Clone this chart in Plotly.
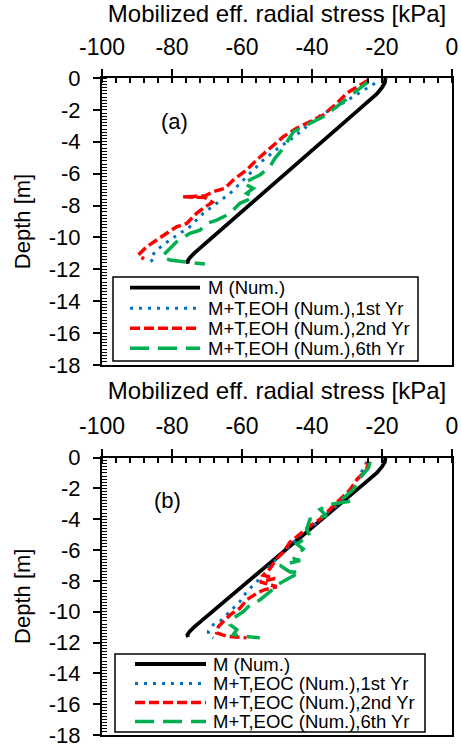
import plotly.graph_objects as go

W, H = 461, 747

# ---------------- data ----------------
x_title = "Mobilized eff. radial stress [kPa]"
y_title = "Depth [m]"
panel_labels = ["(a)", "(b)"]
names_a = ["M (Num.)", "M+T,EOH (Num.),1st Yr", "M+T,EOH (Num.),2nd Yr", "M+T,EOH (Num.),6th Yr"]
names_b = ["M (Num.)", "M+T,EOC (Num.),1st Yr", "M+T,EOC (Num.),2nd Yr", "M+T,EOC (Num.),6th Yr"]

x_tickvals = [-100, -80, -60, -40, -20, 0]
x_ticktext = ["-100", "-80", "-60", "-40", "-20", "0"]
y_tickvals = [0, -2, -4, -6, -8, -10, -12, -14, -16, -18]
y_ticktext = ["0", "-2", "-4", "-6", "-8", "-10", "-12", "-14", "-16", "-18"]

m_depth = [0.0, -0.3, -0.6, -1.0, -2.0, -4.0, -6.0, -8.0, -10.0, -11.0, -11.3, -11.5, -11.65]
m_stress = [-19.0, -19.2, -20.0, -21.5, -26.7, -37.2, -47.6, -58.1, -68.5, -73.7, -75.0, -75.6, -75.4]

# panel (a) EOH
a1_depth = [-0.33, -0.65, -1.8, -2.22, -3.05, -3.89, -4.31, -5.14, -5.98, -6.6, -7.23, -7.86, -8.49,
            -9.33, -9.74, -10.16, -10.79, -11.31, -11.59]
a1_stress = [-22.0, -24.4, -32.9, -36.8, -41.5, -46.3, -49.1, -53.9, -57.7, -60.6, -63.4, -67.2, -71.1,
             -74.9, -77.7, -80.6, -84.4, -86.3, -85.3]
a2_depth = [-0.13, -0.54, -0.96, -1.59, -2.32, -2.74, -3.16, -3.68, -4.41, -5.14, -5.77, -6.4, -6.92,
            -7.13, -7.4, -7.45, -7.5, -7.8, -8.1, -8.49, -9.12, -9.33, -9.74, -10.16, -10.58, -11.1, -11.35]
a2_stress = [-23.9, -27.2, -30.1, -32.9, -36.8, -40.6, -44.4, -48.2, -52.0, -55.8, -58.7, -62.5, -64.9,
             -68.2, -70.6, -76.8, -70.6, -68.5, -70.6, -73.0, -75.8, -78.7, -81.5, -84.4, -87.2, -89.6, -88.0]
a3_depth = [-0.23, -0.65, -1.17, -1.8, -2.43, -3.05, -3.37, -3.89, -4.41, -5.04, -5.56, -6.08, -6.6,
            -6.92, -7.23, -7.49, -7.86, -8.49, -8.91, -9.12, -9.54, -9.74, -10.27, -10.79, -11.21, -11.42, -11.67]
a3_stress = [-23.9, -26.3, -29.1, -32.9, -36.8, -42.5, -45.3, -46.8, -48.2, -50.6, -52.0, -54.9, -59.6,
             -56.8, -58.7, -56.8, -60.6, -63.4, -67.2, -70.1, -72.0, -74.9, -78.7, -81.0, -82.9, -80.6, -70.6]

# panel (b) EOC
b1_depth = [-0.27, -0.59, -1.44, -2.51, -3.15, -3.79, -4.44, -4.86, -5.5, -5.93, -6.57, -7.0, -7.64,
            -8.28, -8.71, -9.35, -9.78, -10.21, -10.63, -10.85, -11.27, -11.49, -11.7]
b1_stress = [-24.4, -24.9, -27.2, -30.1, -32.9, -36.8, -39.6, -42.5, -45.3, -47.2, -50.1, -52.0, -53.9,
             -56.8, -58.7, -60.6, -62.5, -64.4, -66.3, -68.2, -69.6, -69.6, -68.2]
b2_depth = [-0.27, -0.8, -1.44, -2.08, -2.72, -3.37, -4.0, -4.44, -4.97, -5.5, -6.14, -6.57, -7.21,
            -7.64, -7.85, -8.06, -8.38, -8.6, -8.81, -9.24, -9.78, -10.21, -10.63, -10.95, -11.38, -11.59, -11.7]
b2_stress = [-23.9, -24.4, -27.2, -29.1, -32.0, -34.9, -37.7, -40.6, -43.4, -46.3, -48.2, -50.1, -52.0,
             -53.9, -50.6, -54.9, -50.1, -53.9, -55.8, -58.7, -60.6, -63.4, -65.3, -66.7, -67.2, -64.4, -58.7]
b3_depth = [-0.27, -0.69, -1.33, -2.08, -2.62, -2.83, -3.04, -3.37, -3.79, -4.0, -4.65, -5.08, -5.61,
            -5.93, -6.57, -6.68, -7.0, -7.42, -7.42, -8.06, -8.28, -8.71, -9.24, -9.56, -9.99, -10.42,
            -10.85, -11.17, -11.49, -11.59, -11.7]
b3_stress = [-23.4, -23.9, -26.3, -28.2, -31.0, -28.7, -34.9, -37.7, -35.8, -40.6, -41.5, -40.6, -44.4,
             -42.5, -45.3, -43.4, -49.1, -46.3, -43.4, -48.2, -50.1, -52.0, -54.9, -57.7, -59.6, -62.5,
             -63.4, -61.5, -62.5, -59.6, -54.9]

# ---------------- styles ----------------
FONT = "Liberation Sans, Arial, sans-serif"
styles = [
    dict(color="black", width=3.8, dash="solid"),
    dict(color="#0070C0", width=3, dash="3px,6px"),
    dict(color="#FF0000", width=3.5, dash="10px,4px"),
    dict(color="#00B050", width=3.5, dash="19px,9px"),
]

def px(x):
    return x / W

def py(y):
    return 1 - y / H

fig = go.Figure()

panels = [
    ("x", "y", [(m_stress, m_depth), (a1_stress, a1_depth), (a2_stress, a2_depth), (a3_stress, a3_depth)], names_a),
    ("x2", "y2", [(m_stress, m_depth), (b1_stress, b1_depth), (b2_stress, b2_depth), (b3_stress, b3_depth)], names_b),
]
for xa, ya, series, names in panels:
    for i in range(4):
        xs, ys = series[i]
        fig.add_trace(go.Scatter(x=xs, y=ys, mode="lines", name=names[i],
                                 line=dict(color=styles[i]["color"], width=styles[i]["width"],
                                           dash=styles[i]["dash"]),
                                 xaxis=xa, yaxis=ya, showlegend=False))

xdom = [px(102), px(452)]
ydom_a = [py(365), py(78)]
ydom_b = [py(735), py(457.5)]

def xax(dom_anchor, title):
    return dict(domain=xdom, anchor=dom_anchor, side="top", range=[-100, 0],
                tickmode="array", tickvals=x_tickvals, ticktext=x_ticktext,
                ticks="outside", ticklen=7, tickwidth=2, tickcolor="black",
                showline=True, linecolor="black", linewidth=2, mirror=True,
                showgrid=False, zeroline=False, ticklabelstandoff=5, automargin=False,
                ticklabeloverflow="allow",
                tickfont=dict(size=23, family=FONT, color="black"),
                minor=dict(tick0=0, dtick=4, ticks="inside", ticklen=5, tickwidth=1.5, tickcolor="black", showgrid=False),
                title=dict(text=title, standoff=7, font=dict(size=24, family=FONT, color="black")))

def yax(dom, anchor, title):
    return dict(domain=dom, anchor=anchor, range=[-18, 0],
                tickmode="array", tickvals=y_tickvals, ticktext=y_ticktext,
                ticks="outside", ticklen=7, tickwidth=2, tickcolor="black",
                showline=True, linecolor="black", linewidth=2, mirror=True,
                showgrid=False, zeroline=False, ticklabelstandoff=8, automargin=False,
                ticklabeloverflow="allow",
                tickfont=dict(size=22, family=FONT, color="black"),
                minor=dict(tick0=0, dtick=0.2, ticks="inside", ticklen=5, tickwidth=1.2, tickcolor="black", showgrid=False),
                title=dict(text=title, standoff=12, font=dict(size=22, family=FONT, color="black")))

def xover(over, anchor):
    return dict(overlaying=over, anchor=anchor, side="top", range=[-100, 0],
                tickmode="array", tickvals=x_tickvals,
                ticks="inside", ticklen=5, tickwidth=2, tickcolor="black", showticklabels=False,
                showline=False, showgrid=False, zeroline=False, automargin=False)

def yover(over, anchor):
    return dict(overlaying=over, anchor=anchor, range=[-18, 0],
                tickmode="array", tickvals=y_tickvals,
                ticks="inside", ticklen=5, tickwidth=2, tickcolor="black", showticklabels=False,
                showline=False, showgrid=False, zeroline=False, automargin=False)

fig.update_layout(
    width=W, height=H, margin=dict(l=0, r=0, t=0, b=0, autoexpand=False),
    paper_bgcolor="white", plot_bgcolor="white", showlegend=False,
    font=dict(family=FONT, size=22, color="black"),
    xaxis=xax("y", x_title), yaxis=yax(ydom_a, "x", y_title),
    xaxis2=xax("y2", x_title), yaxis2=yax(ydom_b, "x2", y_title),
    xaxis3=xover("x", "y"), yaxis3=yover("y", "x"),
    xaxis4=xover("x2", "y2"), yaxis4=yover("y2", "x2"),
)

# panel labels
fig.add_annotation(x=px(174), y=py(121), xref="paper", yref="paper", text=panel_labels[0],
                   xanchor="center", yanchor="middle",
                   showarrow=False, font=dict(size=22, family=FONT, color="black"))
fig.add_annotation(x=px(167), y=py(500), xref="paper", yref="paper", text=panel_labels[1],
                   xanchor="center", yanchor="middle",
                   showarrow=False, font=dict(size=22, family=FONT, color="black"))

# custom legends (long line samples as in the reference)
legend_boxes = [
    dict(x0=113, x1=418, y0=277, y1=361, rows=[287.7, 308.3, 328.3, 348.3], lx0=130, lx1=200, tx=206, names=names_a),
    dict(x0=115, x1=425, y0=654, y1=732, rows=[664, 683.5, 702.5, 721.5], lx0=135, lx1=206, tx=211, names=names_b),
]
for lb in legend_boxes:
    fig.add_shape(type="rect", xref="paper", yref="paper", x0=px(lb["x0"]), x1=px(lb["x1"]),
                  y0=py(lb["y1"]), y1=py(lb["y0"]), fillcolor="white", line=dict(color="black", width=1.5),
                  layer="above")
    for i, yy in enumerate(lb["rows"]):
        fig.add_shape(type="line", xref="paper", yref="paper", x0=px(lb["lx0"]), x1=px(lb["lx1"]),
                      y0=py(yy), y1=py(yy), layer="above",
                      line=dict(color=styles[i]["color"], width=styles[i]["width"], dash=styles[i]["dash"]))
        fig.add_annotation(x=px(lb["tx"]), y=py(yy), xref="paper", yref="paper", text=lb["names"][i],
                           showarrow=False, xanchor="left", yanchor="middle",
                           font=dict(size=18.5, family=FONT, color="black"))

fig.write_html("out.html")
